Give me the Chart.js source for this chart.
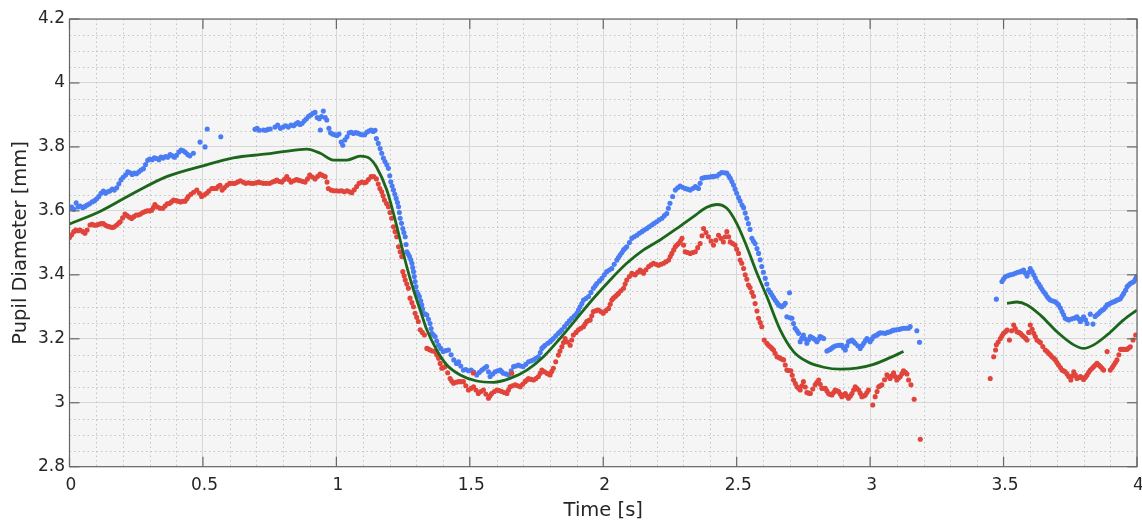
<!DOCTYPE html>
<html>
<head>
<meta charset="utf-8">
<script src="https://cdn.jsdelivr.net/npm/chart.js@4.4.1/dist/chart.umd.min.js"></script>
<style>
html,body{margin:0;padding:0;background:#fff;}
#wrap{width:1142px;height:521px;position:relative;}
</style>
</head>
<body>
<div id="wrap"><canvas id="c"></canvas></div>
<script>
// ---- data: [time (s), pupil diameter (mm)] ----
const bluePoints = [
[0,3.608],[0.008,3.612],[0.016,3.605],[0.025,3.625],[0.032,3.612],[0.04,3.615],[0.05,3.61],[0.058,3.614],[0.066,3.618],[0.075,3.622],
[0.085,3.628],[0.094,3.632],[0.102,3.638],[0.11,3.645],[0.118,3.655],[0.127,3.662],[0.135,3.655],[0.143,3.66],[0.151,3.662],[0.16,3.668],
[0.168,3.665],[0.177,3.672],[0.185,3.685],[0.193,3.697],[0.201,3.705],[0.21,3.712],[0.218,3.722],[0.227,3.719],[0.235,3.714],[0.243,3.718],
[0.251,3.716],[0.26,3.722],[0.268,3.728],[0.277,3.732],[0.285,3.745],[0.293,3.758],[0.301,3.762],[0.31,3.76],[0.318,3.766],[0.327,3.764],
[0.335,3.76],[0.343,3.768],[0.351,3.765],[0.36,3.77],[0.368,3.768],[0.377,3.776],[0.385,3.772],[0.393,3.768],[0.401,3.774],[0.41,3.784],
[0.418,3.79],[0.426,3.788],[0.434,3.783],[0.443,3.776],[0.451,3.772],[0.464,3.78],[0.489,3.815],[0.508,3.8],[0.516,3.856],[0.567,3.832],
[0.695,3.855],[0.703,3.858],[0.711,3.852],[0.727,3.853],[0.736,3.852],[0.744,3.855],[0.752,3.856],[0.77,3.862],[0.78,3.868],[0.79,3.858],
[0.8,3.862],[0.81,3.866],[0.82,3.862],[0.83,3.868],[0.84,3.866],[0.848,3.872],[0.856,3.876],[0.864,3.87],[0.872,3.874],[0.88,3.882],
[0.888,3.888],[0.896,3.896],[0.904,3.9],[0.912,3.905],[0.92,3.908],[0.928,3.892],[0.936,3.888],[0.94,3.853],[0.944,3.895],[0.951,3.912],
[0.958,3.892],[0.964,3.884],[0.972,3.858],[0.978,3.844],[0.986,3.84],[0.994,3.838],[1.002,3.836],[1.01,3.84],[1.018,3.815],[1.024,3.805],
[1.032,3.822],[1.04,3.832],[1.048,3.844],[1.056,3.846],[1.064,3.842],[1.072,3.845],[1.08,3.843],[1.088,3.84],[1.096,3.838],[1.106,3.838],
[1.114,3.846],[1.122,3.85],[1.13,3.853],[1.138,3.848],[1.145,3.852],[1.15,3.826],[1.157,3.811],[1.164,3.795],[1.17,3.78],[1.176,3.765],
[1.182,3.754],[1.189,3.744],[1.195,3.733],[1.2,3.71],[1.204,3.691],[1.209,3.678],[1.214,3.665],[1.219,3.652],[1.224,3.639],[1.229,3.626],
[1.233,3.613],[1.236,3.595],[1.239,3.577],[1.244,3.561],[1.249,3.545],[1.253,3.532],[1.258,3.519],[1.261,3.495],[1.264,3.472],[1.269,3.465],
[1.274,3.457],[1.279,3.447],[1.283,3.436],[1.286,3.423],[1.289,3.41],[1.292,3.395],[1.295,3.379],[1.298,3.363],[1.301,3.347],[1.306,3.34],
[1.311,3.332],[1.316,3.319],[1.32,3.306],[1.323,3.293],[1.326,3.28],[1.333,3.277],[1.339,3.274],[1.345,3.261],[1.351,3.248],[1.355,3.232],
[1.358,3.217],[1.364,3.212],[1.37,3.207],[1.376,3.193],[1.383,3.18],[1.391,3.17],[1.4,3.16],[1.41,3.163],[1.42,3.165],[1.43,3.15],
[1.44,3.134],[1.45,3.123],[1.458,3.128],[1.466,3.115],[1.476,3.102],[1.485,3.104],[1.495,3.1],[1.505,3.102],[1.515,3.096],[1.526,3.087],
[1.536,3.095],[1.545,3.102],[1.554,3.108],[1.563,3.113],[1.57,3.097],[1.576,3.082],[1.586,3.09],[1.595,3.097],[1.605,3.1],[1.614,3.102],
[1.62,3.097],[1.626,3.092],[1.636,3.09],[1.645,3.087],[1.655,3.1],[1.664,3.113],[1.673,3.115],[1.682,3.118],[1.691,3.115],[1.7,3.113],
[1.71,3.12],[1.72,3.128],[1.73,3.131],[1.739,3.134],[1.748,3.139],[1.757,3.144],[1.764,3.157],[1.77,3.17],[1.776,3.175],[1.782,3.18],
[1.792,3.186],[1.801,3.191],[1.807,3.196],[1.813,3.201],[1.822,3.209],[1.832,3.217],[1.838,3.222],[1.845,3.228],[1.855,3.238],[1.864,3.248],
[1.873,3.256],[1.882,3.264],[1.892,3.272],[1.901,3.28],[1.907,3.29],[1.913,3.3],[1.92,3.31],[1.926,3.321],[1.935,3.326],[1.945,3.332],
[1.954,3.345],[1.963,3.358],[1.97,3.366],[1.976,3.373],[1.986,3.381],[1.995,3.389],[2.004,3.4],[2.013,3.41],[2.023,3.415],[2.032,3.42],
[2.041,3.433],[2.051,3.446],[2.057,3.454],[2.063,3.462],[2.07,3.47],[2.076,3.478],[2.082,3.483],[2.088,3.488],[2.098,3.501],[2.107,3.514],
[2.116,3.519],[2.126,3.524],[2.135,3.53],[2.145,3.535],[2.154,3.54],[2.163,3.545],[2.172,3.55],[2.182,3.556],[2.191,3.561],[2.2,3.566],
[2.21,3.572],[2.22,3.577],[2.229,3.585],[2.238,3.592],[2.244,3.608],[2.25,3.624],[2.26,3.645],[2.27,3.665],[2.279,3.672],[2.288,3.678],
[2.297,3.674],[2.307,3.67],[2.316,3.668],[2.326,3.665],[2.335,3.67],[2.345,3.676],[2.351,3.673],[2.357,3.67],[2.363,3.686],[2.37,3.702],
[2.379,3.704],[2.388,3.705],[2.398,3.706],[2.407,3.707],[2.416,3.708],[2.426,3.709],[2.435,3.715],[2.444,3.72],[2.454,3.719],[2.463,3.718],
[2.47,3.71],[2.476,3.702],[2.482,3.692],[2.488,3.681],[2.494,3.668],[2.5,3.655],[2.507,3.642],[2.513,3.631],[2.52,3.618],[2.526,3.61],
[2.532,3.593],[2.538,3.577],[2.544,3.56],[2.55,3.542],[2.557,3.514],[2.563,3.505],[2.569,3.498],[2.576,3.482],[2.582,3.467],[2.588,3.447],
[2.594,3.426],[2.6,3.408],[2.607,3.389],[2.613,3.371],[2.619,3.353],[2.626,3.345],[2.632,3.337],[2.638,3.329],[2.644,3.321],[2.651,3.313],
[2.657,3.306],[2.663,3.303],[2.669,3.3],[2.676,3.305],[2.682,3.311],[2.688,3.269],[2.698,3.344],[2.7,3.266],[2.707,3.264],[2.713,3.248],
[2.719,3.233],[2.726,3.225],[2.732,3.217],[2.738,3.191],[2.744,3.202],[2.75,3.212],[2.757,3.199],[2.763,3.186],[2.77,3.197],[2.776,3.207],
[2.782,3.204],[2.788,3.201],[2.795,3.196],[2.801,3.191],[2.807,3.199],[2.813,3.207],[2.82,3.204],[2.826,3.201],[2.838,3.162],[2.845,3.165],
[2.851,3.167],[2.857,3.171],[2.863,3.175],[2.872,3.178],[2.882,3.18],[2.888,3.18],[2.894,3.18],[2.9,3.172],[2.907,3.165],[2.913,3.178],
[2.919,3.191],[2.926,3.194],[2.932,3.196],[2.938,3.191],[2.944,3.186],[2.954,3.178],[2.963,3.17],[2.97,3.178],[2.976,3.186],[2.982,3.194],
[2.988,3.201],[2.994,3.196],[3,3.191],[3.007,3.199],[3.013,3.207],[3.02,3.21],[3.026,3.212],[3.032,3.216],[3.038,3.219],[3.048,3.218],
[3.057,3.217],[3.066,3.22],[3.075,3.222],[3.082,3.225],[3.088,3.227],[3.098,3.228],[3.107,3.229],[3.116,3.231],[3.125,3.233],[3.135,3.233],
[3.144,3.233],[3.15,3.238],[3.175,3.225],[3.185,3.189],
[3.473,3.324],[3.494,3.379],[3.5,3.387],[3.506,3.394],[3.515,3.397],[3.525,3.4],[3.535,3.402],[3.544,3.405],[3.553,3.408],[3.563,3.41],
[3.569,3.412],[3.575,3.415],[3.582,3.405],[3.588,3.396],[3.594,3.408],[3.6,3.42],[3.607,3.41],[3.613,3.4],[3.619,3.39],[3.625,3.379],
[3.632,3.371],[3.638,3.363],[3.644,3.355],[3.65,3.347],[3.657,3.34],[3.663,3.332],[3.669,3.326],[3.675,3.321],[3.685,3.318],[3.694,3.316],
[3.7,3.311],[3.706,3.306],[3.713,3.296],[3.719,3.285],[3.725,3.275],[3.731,3.264],[3.738,3.261],[3.744,3.259],[3.754,3.262],[3.763,3.264],
[3.769,3.266],[3.775,3.269],[3.782,3.262],[3.788,3.254],[3.794,3.262],[3.8,3.269],[3.807,3.259],[3.813,3.248],[3.825,3.277],[3.835,3.246],
[3.843,3.27],[3.85,3.275],[3.857,3.28],[3.863,3.285],[3.869,3.289],[3.875,3.292],[3.882,3.299],[3.888,3.306],[3.894,3.308],[3.9,3.311],
[3.907,3.314],[3.913,3.316],[3.919,3.318],[3.925,3.321],[3.932,3.323],[3.938,3.326],[3.944,3.334],[3.95,3.342],[3.957,3.352],[3.963,3.363],
[3.969,3.368],[3.975,3.373],[3.982,3.376],[3.988,3.379],[3.994,3.387],[3.998,3.394]
];

const redPoints = [
[0,3.517],[0.008,3.525],[0.016,3.535],[0.024,3.54],[0.032,3.538],[0.04,3.54],[0.05,3.535],[0.058,3.53],[0.066,3.54],[0.077,3.556],
[0.085,3.558],[0.094,3.555],[0.102,3.556],[0.11,3.558],[0.118,3.56],[0.127,3.56],[0.135,3.555],[0.143,3.552],[0.151,3.55],[0.16,3.548],
[0.168,3.55],[0.177,3.556],[0.185,3.562],[0.19,3.566],[0.199,3.578],[0.208,3.59],[0.216,3.585],[0.225,3.58],[0.233,3.576],[0.241,3.582],
[0.25,3.587],[0.258,3.587],[0.266,3.59],[0.275,3.595],[0.283,3.598],[0.291,3.6],[0.3,3.6],[0.308,3.602],[0.314,3.61],[0.32,3.62],
[0.33,3.612],[0.34,3.608],[0.35,3.608],[0.358,3.615],[0.366,3.622],[0.374,3.623],[0.382,3.628],[0.39,3.634],[0.4,3.632],[0.408,3.63],
[0.416,3.628],[0.425,3.63],[0.433,3.63],[0.44,3.638],[0.445,3.645],[0.455,3.652],[0.465,3.658],[0.477,3.665],[0.487,3.655],[0.495,3.645],
[0.505,3.65],[0.514,3.655],[0.522,3.662],[0.533,3.67],[0.541,3.67],[0.55,3.67],[0.557,3.676],[0.564,3.68],[0.572,3.665],[0.58,3.672],
[0.59,3.68],[0.6,3.686],[0.61,3.686],[0.62,3.686],[0.63,3.69],[0.64,3.694],[0.65,3.69],[0.66,3.686],[0.67,3.688],[0.68,3.686],
[0.69,3.686],[0.7,3.688],[0.708,3.69],[0.718,3.688],[0.727,3.686],[0.738,3.686],[0.75,3.686],[0.76,3.69],[0.77,3.693],[0.777,3.696],
[0.787,3.692],[0.796,3.69],[0.805,3.698],[0.814,3.707],[0.822,3.698],[0.83,3.69],[0.84,3.694],[0.85,3.698],[0.857,3.696],[0.866,3.694],
[0.875,3.692],[0.883,3.69],[0.892,3.7],[0.9,3.712],[0.91,3.706],[0.92,3.7],[0.93,3.708],[0.939,3.715],[0.948,3.711],[0.958,3.707],
[0.965,3.69],[0.97,3.67],[0.98,3.665],[0.99,3.663],[1,3.663],[1.01,3.662],[1.02,3.663],[1.03,3.66],[1.04,3.663],[1.05,3.66],
[1.058,3.657],[1.067,3.666],[1.076,3.676],[1.085,3.686],[1.095,3.69],[1.104,3.688],[1.112,3.69],[1.12,3.698],[1.13,3.707],[1.14,3.707],
[1.15,3.7],[1.157,3.684],[1.163,3.67],[1.17,3.66],[1.175,3.647],[1.18,3.634],[1.188,3.623],[1.195,3.613],[1.201,3.595],[1.207,3.577],
[1.214,3.55],[1.22,3.535],[1.226,3.519],[1.233,3.488],[1.239,3.472],[1.245,3.457],[1.249,3.41],[1.254,3.397],[1.258,3.384],[1.264,3.371],
[1.27,3.358],[1.276,3.327],[1.283,3.313],[1.289,3.3],[1.295,3.28],[1.301,3.267],[1.307,3.254],[1.314,3.228],[1.322,3.22],[1.33,3.212],
[1.339,3.17],[1.345,3.168],[1.351,3.165],[1.36,3.162],[1.37,3.16],[1.376,3.15],[1.383,3.139],[1.389,3.123],[1.395,3.108],[1.401,3.11],
[1.408,3.113],[1.417,3.094],[1.426,3.076],[1.432,3.068],[1.439,3.061],[1.448,3.064],[1.457,3.066],[1.466,3.066],[1.476,3.066],[1.485,3.053],
[1.495,3.04],[1.505,3.045],[1.513,3.093],[1.514,3.05],[1.523,3.04],[1.532,3.029],[1.541,3.035],[1.551,3.04],[1.56,3.027],[1.57,3.014],
[1.576,3.022],[1.582,3.029],[1.592,3.035],[1.601,3.04],[1.61,3.038],[1.62,3.035],[1.629,3.032],[1.639,3.029],[1.645,3.04],[1.651,3.05],
[1.657,3.092],[1.66,3.053],[1.67,3.056],[1.68,3.053],[1.689,3.05],[1.698,3.058],[1.707,3.066],[1.714,3.071],[1.72,3.076],[1.73,3.073],
[1.739,3.071],[1.748,3.076],[1.757,3.082],[1.764,3.092],[1.77,3.102],[1.78,3.097],[1.789,3.092],[1.795,3.09],[1.801,3.087],[1.807,3.098],
[1.813,3.108],[1.822,3.128],[1.832,3.149],[1.838,3.162],[1.845,3.175],[1.851,3.188],[1.857,3.201],[1.866,3.19],[1.876,3.18],[1.882,3.196],
[1.888,3.212],[1.898,3.22],[1.907,3.228],[1.916,3.233],[1.926,3.238],[1.932,3.246],[1.938,3.254],[1.945,3.257],[1.951,3.259],[1.957,3.272],
[1.963,3.285],[1.973,3.288],[1.982,3.29],[1.991,3.285],[2,3.28],[2.01,3.288],[2.02,3.295],[2.026,3.308],[2.032,3.321],[2.038,3.327],
[2.045,3.332],[2.051,3.337],[2.057,3.342],[2.066,3.35],[2.076,3.358],[2.082,3.371],[2.088,3.384],[2.098,3.395],[2.107,3.405],[2.113,3.402],
[2.12,3.4],[2.129,3.408],[2.138,3.415],[2.145,3.41],[2.151,3.405],[2.16,3.416],[2.17,3.426],[2.179,3.431],[2.188,3.436],[2.198,3.433],
[2.207,3.43],[2.216,3.433],[2.226,3.436],[2.235,3.441],[2.245,3.446],[2.251,3.457],[2.257,3.467],[2.264,3.478],[2.27,3.488],[2.276,3.493],
[2.282,3.498],[2.289,3.506],[2.295,3.514],[2.301,3.493],[2.307,3.472],[2.316,3.47],[2.326,3.467],[2.335,3.47],[2.345,3.472],[2.354,3.485],
[2.363,3.498],[2.37,3.522],[2.376,3.545],[2.385,3.532],[2.394,3.519],[2.404,3.506],[2.413,3.493],[2.422,3.508],[2.432,3.524],[2.441,3.514],
[2.45,3.503],[2.457,3.519],[2.463,3.535],[2.47,3.519],[2.476,3.503],[2.485,3.498],[2.494,3.493],[2.5,3.48],[2.507,3.467],[2.513,3.446],
[2.519,3.436],[2.526,3.42],[2.532,3.4],[2.538,3.386],[2.544,3.368],[2.55,3.36],[2.557,3.345],[2.563,3.333],[2.569,3.31],[2.576,3.287],
[2.582,3.264],[2.588,3.251],[2.594,3.238],[2.603,3.196],[2.613,3.186],[2.619,3.18],[2.626,3.175],[2.632,3.17],[2.638,3.165],[2.644,3.155],
[2.651,3.144],[2.657,3.142],[2.663,3.139],[2.67,3.136],[2.676,3.134],[2.682,3.118],[2.688,3.102],[2.695,3.101],[2.703,3.1],[2.708,3.086],
[2.713,3.071],[2.72,3.06],[2.726,3.05],[2.732,3.045],[2.738,3.04],[2.744,3.053],[2.75,3.066],[2.757,3.049],[2.763,3.032],[2.77,3.03],
[2.776,3.029],[2.785,3.043],[2.794,3.056],[2.8,3.063],[2.807,3.071],[2.813,3.058],[2.819,3.045],[2.826,3.045],[2.832,3.045],[2.838,3.037],
[2.844,3.029],[2.85,3.026],[2.857,3.024],[2.863,3.032],[2.869,3.04],[2.876,3.037],[2.882,3.035],[2.888,3.027],[2.894,3.019],[2.9,3.024],
[2.907,3.029],[2.913,3.021],[2.919,3.014],[2.926,3.021],[2.932,3.029],[2.938,3.04],[2.944,3.05],[2.95,3.045],[2.957,3.04],[2.963,3.03],
[2.969,3.019],[2.976,3.021],[2.982,3.024],[2.988,3.032],[2.994,3.04],[3.01,2.993],[3.019,3.019],[3.026,3.035],[3.032,3.05],[3.038,3.053],
[3.044,3.056],[3.054,3.072],[3.063,3.087],[3.069,3.082],[3.075,3.076],[3.082,3.085],[3.088,3.094],[3.094,3.082],[3.1,3.071],[3.107,3.077],
[3.113,3.082],[3.119,3.091],[3.125,3.1],[3.132,3.095],[3.138,3.09],[3.144,3.071],[3.153,3.056],[3.165,3.011],[3.188,2.886],
[3.45,3.076],[3.463,3.144],[3.47,3.165],[3.473,3.181],[3.48,3.19],[3.488,3.201],[3.494,3.209],[3.5,3.217],[3.507,3.222],[3.513,3.227],
[3.522,3.196],[3.53,3.225],[3.538,3.243],[3.544,3.232],[3.55,3.222],[3.557,3.22],[3.563,3.217],[3.569,3.212],[3.575,3.207],[3.582,3.202],
[3.588,3.196],[3.594,3.22],[3.6,3.243],[3.607,3.23],[3.613,3.217],[3.619,3.207],[3.625,3.196],[3.632,3.192],[3.638,3.188],[3.647,3.176],
[3.656,3.165],[3.663,3.16],[3.669,3.155],[3.675,3.15],[3.681,3.144],[3.688,3.139],[3.694,3.134],[3.7,3.126],[3.706,3.118],[3.713,3.11],
[3.719,3.102],[3.725,3.1],[3.731,3.097],[3.738,3.09],[3.744,3.082],[3.752,3.071],[3.758,3.084],[3.763,3.097],[3.769,3.087],[3.775,3.076],
[3.782,3.079],[3.788,3.082],[3.794,3.078],[3.8,3.073],[3.807,3.08],[3.813,3.087],[3.819,3.095],[3.825,3.102],[3.832,3.108],[3.838,3.113],
[3.844,3.118],[3.85,3.123],[3.857,3.118],[3.863,3.113],[3.869,3.108],[3.875,3.102],[3.888,3.16],[3.9,3.102],[3.907,3.11],[3.913,3.118],
[3.919,3.126],[3.925,3.134],[3.932,3.15],[3.938,3.167],[3.944,3.167],[3.95,3.167],[3.957,3.167],[3.963,3.167],[3.969,3.171],[3.975,3.175],
[3.985,3.196],[3.995,3.212]
];

// smoothed fit (null = gap in the fitted curve)
const fitPoints = [
[0,3.559],[0.114,3.598],[0.239,3.655],[0.364,3.707],[0.5,3.741],[0.614,3.766],[0.739,3.778],[0.8,3.785],[0.889,3.793],[0.94,3.78],
[0.989,3.759],[1.04,3.759],[1.089,3.771],[1.126,3.763],[1.15,3.738],[1.189,3.665],[1.214,3.592],[1.239,3.509],[1.264,3.425],[1.289,3.353],
[1.314,3.29],[1.339,3.228],[1.376,3.165],[1.414,3.118],[1.464,3.087],[1.526,3.068],[1.589,3.064],[1.651,3.076],[1.714,3.102],[1.776,3.144],
[1.838,3.201],[1.901,3.264],[1.963,3.326],[2.026,3.384],[2.088,3.436],[2.151,3.478],[2.213,3.509],[2.276,3.545],[2.338,3.582],[2.388,3.611],
[2.426,3.62],[2.463,3.608],[2.5,3.561],[2.538,3.488],[2.576,3.405],[2.613,3.332],[2.663,3.228],[2.713,3.16],[2.763,3.129],[2.826,3.111],
[2.888,3.105],[2.95,3.108],[3.013,3.12],[3.075,3.141],[3.125,3.16],
[3.3,null],
[3.513,3.311],[3.55,3.315],[3.588,3.306],[3.638,3.274],[3.7,3.222],[3.763,3.181],[3.8,3.17],[3.838,3.181],[3.888,3.212],[3.95,3.259],[4,3.29]
];

const xTicks = [0, 0.5, 1, 1.5, 2, 2.5, 3, 3.5, 4];
const yTicks = [2.8, 3, 3.2, 3.4, 3.6, 3.8, 4, 4.2];
const xLabel = 'Time [s]';
const yLabel = 'Pupil Diameter [mm]';

const toXY = arr => arr.map(p => ({x: p[0], y: p[1]}));

const PLOT_BG = '#f5f5f5';
const AXIS_COL = '#666666';
const TEXT_COL = '#262626';

const framePlugin = {
  id: 'frame',
  beforeDraw(chart) {
    const {ctx, chartArea: a} = chart;
    ctx.save();
    ctx.fillStyle = PLOT_BG;
    ctx.fillRect(a.left, a.top, a.right - a.left, a.bottom - a.top);
    ctx.restore();
  },
  beforeDatasetsDraw(chart) {
    const {ctx, chartArea: a, scales: {x, y}} = chart;
    ctx.save();
    ctx.strokeStyle = '#c4c4c4';
    ctx.lineWidth = 1;
    ctx.setLineDash([1.5, 3]);
    for (let k = 0; k <= 40; k++) {
      if (k % 5 === 0) continue;
      const px = Math.round(x.getPixelForValue(k / 10)) + 0.5;
      ctx.beginPath(); ctx.moveTo(px, a.top); ctx.lineTo(px, a.bottom); ctx.stroke();
    }
    for (let k = 56; k <= 84; k++) {
      if (k % 4 === 0) continue;
      const py = Math.round(y.getPixelForValue(k / 20)) + 0.5;
      ctx.beginPath(); ctx.moveTo(a.left, py); ctx.lineTo(a.right, py); ctx.stroke();
    }
    ctx.restore();
  },
  afterDatasetsDraw(chart) {
    const {ctx, chartArea: a, scales: {x, y}} = chart;
    ctx.save();
    ctx.strokeStyle = AXIS_COL;
    ctx.lineWidth = 1.2;
    ctx.setLineDash([]);
    const TL = 10;
    xTicks.forEach(v => {
      const px = x.getPixelForValue(v);
      ctx.beginPath(); ctx.moveTo(px, a.bottom); ctx.lineTo(px, a.bottom - TL); ctx.stroke();
      ctx.beginPath(); ctx.moveTo(px, a.top); ctx.lineTo(px, a.top + TL); ctx.stroke();
    });
    yTicks.forEach(v => {
      const py = y.getPixelForValue(v);
      ctx.beginPath(); ctx.moveTo(a.left, py); ctx.lineTo(a.left + TL, py); ctx.stroke();
      ctx.beginPath(); ctx.moveTo(a.right, py); ctx.lineTo(a.right - TL, py); ctx.stroke();
    });
    ctx.strokeRect(a.left, a.top, a.right - a.left, a.bottom - a.top);
    ctx.restore();
  }
};

const fmt = v => String(+Number(v).toFixed(2));

new Chart(document.getElementById('c'), {
  type: 'scatter',
  data: {
    datasets: [
      {
        label: 'Fit', data: toXY(fitPoints), showLine: true, order: 0,
        borderColor: '#1b661b', borderWidth: 2.8, pointRadius: 0,
        cubicInterpolationMode: 'monotone', spanGaps: false, fill: false
      },
      {
        label: 'Right eye', data: toXY(redPoints), order: 1,
        pointRadius: 2.55, pointBorderWidth: 0,
        pointBackgroundColor: '#e0443b', backgroundColor: '#e0443b', borderColor: '#e0443b'
      },
      {
        label: 'Left eye', data: toXY(bluePoints), order: 2,
        pointRadius: 2.55, pointBorderWidth: 0,
        pointBackgroundColor: '#4a7cf4', backgroundColor: '#4a7cf4', borderColor: '#4a7cf4'
      }
    ]
  },
  options: {
    responsive: true,
    maintainAspectRatio: false,
    animation: false,
    events: [],
    layout: {padding: {top: 19, right: 5, left: 0, bottom: 0}},
    plugins: {legend: {display: false}, tooltip: {enabled: false}},
    scales: {
      x: {
        type: 'linear', min: 0, max: 4,
        afterBuildTicks: s => { s.ticks = xTicks.map(v => ({value: v})); },
        afterFit: s => { s.height = 54.3; s.paddingLeft = 0; s.paddingRight = 0; },
        grid: {color: '#d8d8d8', lineWidth: 1, drawTicks: false},
        border: {display: false},
        ticks: {
          padding: 9, labelOffset: 1.5, maxRotation: 0, autoSkip: false,
          color: TEXT_COL, font: {family: '"DejaVu Sans", Verdana, sans-serif', size: 17},
          callback: v => fmt(v)
        },
        title: {
          display: true, text: xLabel, color: TEXT_COL,
          font: {family: '"DejaVu Sans", Verdana, sans-serif', size: 19.5, lineHeight: 1},
          padding: {top: 0, bottom: 0}
        }
      },
      y: {
        type: 'linear', min: 2.8, max: 4.2,
        afterBuildTicks: s => { s.ticks = yTicks.map(v => ({value: v})); },
        afterFit: s => { s.width = 69.5; },
        grid: {color: '#d8d8d8', lineWidth: 1, drawTicks: false},
        border: {display: false},
        ticks: {
          padding: 4.5, autoSkip: false,
          color: TEXT_COL, font: {family: '"DejaVu Sans", Verdana, sans-serif', size: 17},
          callback: v => fmt(v)
        },
        title: {
          display: true, text: yLabel, color: TEXT_COL,
          font: {family: '"DejaVu Sans", Verdana, sans-serif', size: 19.5, lineHeight: 1},
          padding: {top: 10.8, bottom: 0}
        }
      }
    }
  },
  plugins: [framePlugin]
});
</script>
</body>
</html>
